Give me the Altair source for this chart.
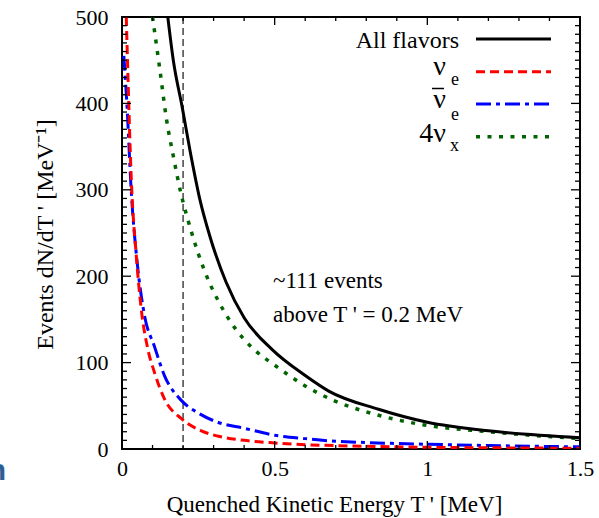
import altair as alt
import pandas as pd

# ---- data ----
T_all = [0.15, 0.168, 0.197, 0.223, 0.255, 0.288, 0.341, 0.4, 0.492, 0.6, 0.677, 0.84, 1.0, 1.2, 1.5]
N_all = [500, 450, 396, 345, 289, 246, 193, 152, 115, 85, 67, 46, 31, 21, 13]

T_nue = [0.014, 0.0195, 0.03, 0.047, 0.063, 0.085, 0.106, 0.139, 0.195, 0.26, 0.313, 0.4, 0.5, 0.6, 0.75, 1.0, 1.25, 1.5]
N_nue = [500, 431, 316, 223, 162, 115, 89, 58, 35, 21, 15, 10, 7, 5, 3.5, 2, 1.3, 0.8]

T_nuebar = [0.006, 0.017, 0.03, 0.05, 0.074, 0.106, 0.139, 0.195, 0.248, 0.313, 0.4, 0.5, 0.6, 0.677, 0.8, 1.0, 1.2, 1.5]
N_nuebar = [455, 393, 300, 215, 154, 119, 85, 56, 42, 31, 24, 16, 12, 9.5, 7.5, 5.5, 4, 2.5]

T_nux = [0.10, 0.124, 0.146, 0.168, 0.193, 0.226, 0.25, 0.287, 0.313, 0.36, 0.433, 0.5, 0.6, 0.694, 0.81, 0.97, 1.2, 1.5]
N_nux = [500, 439, 381, 339, 296, 253, 226, 192, 173, 145, 115, 97, 73, 56, 42, 29, 20, 12]

threshold = [0.2]
x_major = [0, 0.5, 1, 1.5]
x_minor = [0.1, 0.2, 0.3, 0.4, 0.6, 0.7, 0.8, 0.9, 1.1, 1.2, 1.3, 1.4]
y_major = [0, 100, 200, 300, 400, 500]
y_minor = [v for v in range(0, 501, 10) if v % 100 != 0]

FONT = "Liberation Serif"
W, H = 458, 432

xs = alt.Scale(domain=[0, 1.5], nice=False, zero=False)
ys = alt.Scale(domain=[0, 500], nice=False)

X_AXIS = alt.Axis(
    values=x_major, format="~g", ticks=False, domain=False, grid=False, labelFlush=False,
    labelFont=FONT, labelFontSize=22, labelColor="black", labelPadding=9,
    title="Quenched Kinetic Energy T ' [MeV]", titleFont=FONT, titleFontSize=23,
    titleFontWeight="normal", titleColor="black", titleX=212, titleY=62,
    titleBaseline="alphabetic", titleAlign="center")
Y_AXIS = alt.Axis(
    values=y_major, ticks=False, domain=False, grid=False, labelFlush=False,
    labelFont=FONT, labelFontSize=22, labelColor="black", labelPadding=14,
    title="Events dN/dT ' [MeV⁻¹]", titleFont=FONT, titleFontSize=24,
    titleFontWeight="normal", titleColor="black", titleX=-70, titleY=217,
    titleAngle=270, titleBaseline="alphabetic", titleAlign="center")


def X(field="T"):
    return alt.X(f"{field}:Q", scale=xs, axis=X_AXIS)


def Y(field="N"):
    return alt.Y(f"{field}:Q", scale=ys, axis=Y_AXIS)


def curve(T, N, color, dash, width):
    df = pd.DataFrame({"T": T, "N": N})
    kw = dict(color=color, strokeWidth=width, interpolate="monotone", clip=True)
    if dash:
        kw["strokeDash"] = dash
        kw["strokeCap"] = "butt"
    return alt.Chart(df).mark_line(**kw).encode(x=X(), y=Y())


# ticks (inward)
def xticks(vals, length):
    d = pd.DataFrame({"T": vals})
    b = alt.Chart(d).mark_rule(color="black", strokeWidth=1.3)
    return (b.encode(x=X(), y=alt.value(H), y2=alt.value(H - length))
            + b.encode(x=X(), y=alt.value(0), y2=alt.value(length)))


def yticks(vals, length):
    d = pd.DataFrame({"N": vals})
    b = alt.Chart(d).mark_rule(color="black", strokeWidth=1.3)
    return (b.encode(y=Y(), x=alt.value(0), x2=alt.value(length))
            + b.encode(y=Y(), x=alt.value(W), x2=alt.value(W - length)))


vline = alt.Chart(pd.DataFrame({"T": threshold})).mark_rule(
    color="black", strokeWidth=1.1, strokeDash=[7, 4]).encode(x=X())

one = pd.DataFrame({"a": [0]})


def txt(s, x, y, size, align="right", color="black", font=FONT, weight="normal"):
    return alt.Chart(one).mark_text(text=s, align=align, baseline="alphabetic", font=font,
                                     fontSize=size, color=color, fontWeight=weight).encode(
        x=alt.value(x), y=alt.value(y))


def sample(y, color, dash, width, x1=354, x2=429):
    kw = dict(color=color, strokeWidth=width)
    if dash:
        kw["strokeDash"] = dash
        kw["strokeCap"] = "butt"
    return alt.Chart(one).mark_rule(**kw).encode(x=alt.value(x1), x2=alt.value(x2), y=alt.value(y))


legend = (
    txt("All flavors", 337, 31, 24) + sample(22, "black", None, 3)
    + txt("ν", 324, 58, 28) + txt("e", 337, 68, 18) + sample(54.7, "#ff0000", [9, 5], 3)
    + txt("ν", 324, 91, 28) + sample(71.5, "black", None, 1.5, 310, 322)
    + txt("e", 337, 103, 18) + sample(87, "#0000ff", [15, 5, 4, 5], 3)
    + txt("4ν", 324, 124.7, 28) + txt("x", 337, 133.7, 18) + sample(119.7, "#006400", [4, 7.5], 3.5)
)

annot = txt("~111 events", 151, 271, 23, align="left") + txt("above T ' = 0.2 MeV", 151, 305, 23, align="left")

stray = txt("n", -116, 463, 30, color="#2b5f95", font="Liberation Sans", weight="bold")

chart = alt.layer(
    vline,
    curve(T_nux, N_nux, "#006400", [4, 7.5], 3.5),
    curve(T_nuebar, N_nuebar, "#0000ff", [15, 5, 4, 5], 3),
    curve(T_nue, N_nue, "#ff0000", [9, 5], 3),
    curve(T_all, N_all, "black", None, 3),
    xticks(x_minor, 4), xticks(x_major, 8),
    yticks(y_minor, 5), yticks(y_major, 9),
    legend, annot, stray,
).properties(
    width=W, height=H,
    autosize=alt.AutoSizeParams(type="none"),
    padding={"left": 122, "top": 17, "right": 19, "bottom": 69},
    background="white",
).configure_view(stroke="black", strokeWidth=2)

chart.save("out.html", embed_options={"renderer": "svg", "actions": False})
